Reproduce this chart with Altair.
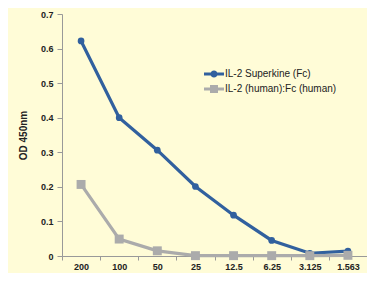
import altair as alt
import pandas as pd

concentrations = ["200", "100", "50", "25", "12.5", "6.25", "3.125", "1.563"]
superkine = [0.622, 0.400, 0.306, 0.201, 0.118, 0.045, 0.008, 0.014]
human_fc = [0.207, 0.049, 0.015, 0.001, 0.001, 0.001, 0.001, 0.002]
series_names = ["IL-2 Superkine (Fc)", "IL-2 (human):Fc (human)"]
y_ticks = [0, 0.1, 0.2, 0.3, 0.4, 0.5, 0.6, 0.7]

rows = []
for c, v in zip(concentrations, superkine):
    rows.append({"conc": c, "od": v, "series": series_names[0]})
for c, v in zip(concentrations, human_fc):
    rows.append({"conc": c, "od": v, "series": series_names[1]})
df = pd.DataFrame(rows)

BLUE = "#31609E"
GRAY = "#ABABAB"
BG = "#FFFCD7"
FONT = "Liberation Sans"

color_scale = alt.Scale(domain=series_names, range=[BLUE, GRAY])
legend_paths = [
    "M-1,-0.15L-0.3,-0.15L-0.3,0.15L-1,0.15Z M0.3,-0.15L1,-0.15L1,0.15L0.3,0.15Z "
    "M0.36,0A0.36,0.36 0 1,1 -0.36,0A0.36,0.36 0 1,1 0.36,0Z",
    "M-1,-0.15L-0.4,-0.15L-0.4,0.15L-1,0.15Z M0.4,-0.15L1,-0.15L1,0.15L0.4,0.15Z "
    "M-0.4,-0.4L0.4,-0.4L0.4,0.4L-0.4,0.4Z",
]
shape_scale = alt.Scale(domain=series_names, range=legend_paths)

x_enc = alt.X(
    "conc:N",
    sort=concentrations,
    title=None,
    scale=alt.Scale(paddingInner=0, paddingOuter=0),
    axis=alt.Axis(
        tickBand="extent",
        labelAngle=0,
        labelFontWeight="bold",
        labelFontSize=9,
        labelColor="#222222",
        labelPadding=2,
        domainColor="#999999",
        tickColor="#999999",
        tickSize=4,
        grid=False,
    ),
)
y_enc = alt.Y(
    "od:Q",
    title="OD 450nm",
    scale=alt.Scale(domain=[0, 0.7], nice=False),
    axis=alt.Axis(
        values=y_ticks,
        labelExpr="datum.value == 0 ? '0' : format(datum.value, '.1f')",
        labelFontWeight="bold",
        labelFontSize=9,
        labelColor="#222222",
        labelPadding=4,
        titleFontWeight="bold",
        titleFontSize=10,
        titleColor="#222222",
        titlePadding=12,
        domainColor="#999999",
        tickColor="#999999",
        tickSize=5,
        grid=False,
    ),
)

base = alt.Chart(df)

def series_layers(name, color, shape, size):
    d = base.transform_filter(alt.datum.series == name)
    line = d.mark_line(color=color, strokeWidth=3.2).encode(x=x_enc, y=y_enc)
    pts = d.mark_point(filled=True, opacity=1, color=color, shape=shape, size=size).encode(x=x_enc, y=y_enc)
    return [line, pts]

legend_carrier = base.mark_point(filled=True, opacity=1, clip=True).encode(
    x=x_enc,
    y=alt.value(-500),
    color=alt.Color(
        "series:N",
        scale=color_scale,
        title=None,
        legend=alt.Legend(
            orient="none",
            legendX=142,
            legendY=50,
            symbolSize=400,
            symbolStrokeWidth=0,
            labelFontSize=10,
            labelFont=FONT,
            labelColor="#222222",
            labelOffset=1,
            rowPadding=-1,
        ),
    ),
    shape=alt.Shape("series:N", scale=shape_scale, title=None),
)

layers = series_layers(series_names[0], BLUE, "circle", 45) + series_layers(series_names[1], GRAY, "square", 80)

chart = alt.layer(*layers, legend_carrier).properties(
    width=305,
    height=242,
    background=BG,
    autosize=alt.AutoSizeParams(type="none"),
    padding={"left": 54, "top": 6, "right": 0, "bottom": 17},
).configure_view(stroke=None).configure_axis(labelFont=FONT, titleFont=FONT)

chart.save("out.html", embed_options={"renderer": "svg", "actions": False})
